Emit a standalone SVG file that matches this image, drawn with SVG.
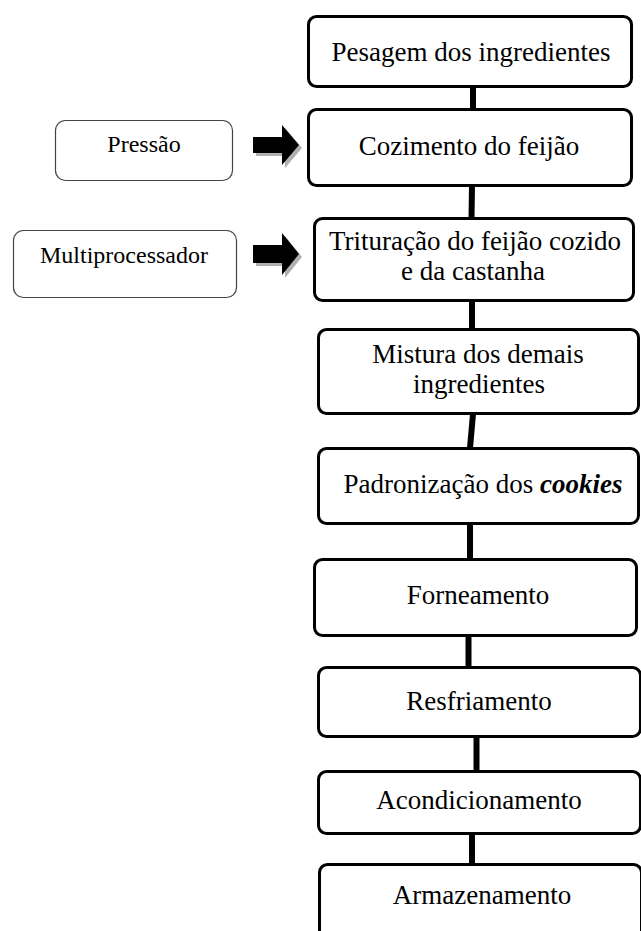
<svg xmlns="http://www.w3.org/2000/svg" width="641" height="931" viewBox="0 0 641 931">
<style>
.main{fill:#fff;stroke:#000;stroke-width:3}
.side{fill:#fff;stroke:#444;stroke-width:1.2}
.t{font-family:'Liberation Serif',Tinos,'DejaVu Serif',serif;font-size:27px;fill:#000;text-anchor:middle}
.s{font-family:'Liberation Serif',Tinos,'DejaVu Serif',serif;font-size:24px;fill:#000;text-anchor:middle}
.c{stroke:#000;stroke-width:6;fill:none}
.sh{fill:#b0b0b0}
.ar{fill:#000}
</style>
<rect width="641" height="931" fill="#fff"/>
<g id="connectors">
<line class="c" x1="473" y1="88" x2="473" y2="109"/>
<line class="c" x1="472" y1="186" x2="471.5" y2="218"/>
<line class="c" x1="472" y1="301" x2="472" y2="329"/>
<line class="c" x1="473" y1="414" x2="470" y2="448"/>
<line class="c" x1="470" y1="524" x2="470" y2="559"/>
<line class="c" x1="468.5" y1="636" x2="468.5" y2="667"/>
<line class="c" x1="476.5" y1="737" x2="476.5" y2="771"/>
<line class="c" x1="472" y1="834" x2="472" y2="864"/>
<polygon class="sh" points="256,140 285,140 285,128 302,148 285,168 285,156 256,156"/>
<polygon class="ar" points="253,137 282,137 282,125 299,145 282,165 282,153 253,153"/>
<polygon class="sh" points="256,248 285,248 285,236 302,257 285,278 285,266 256,266"/>
<polygon class="ar" points="253,245 282,245 282,233 299,254 282,275 282,263 253,263"/>
</g>
<g id="n1"><rect class="main" x="308.5" y="16.5" width="323" height="70" rx="8"/><text class="t" x="471" y="61">Pesagem dos ingredientes</text></g>
<g id="n2"><rect class="main" x="308.5" y="109.5" width="323" height="76" rx="8"/><text class="t" x="469" y="155">Cozimento do feijão</text></g>
<g id="n3"><rect class="main" x="314.5" y="218.5" width="319" height="82" rx="8"/><text class="t" x="475" y="250">Trituração do feijão cozido</text><text class="t" x="473" y="280">e da castanha</text></g>
<g id="n4"><rect class="main" x="318.5" y="329.5" width="320" height="84" rx="8"/><text class="t" x="478" y="363">Mistura dos demais</text><text class="t" x="479" y="393">ingredientes</text></g>
<g id="n5"><rect class="main" x="318.5" y="448.5" width="320" height="75" rx="8"/><text class="t" x="483" y="493">Padronização dos <tspan font-weight="bold" font-style="italic">cookies</tspan></text></g>
<g id="n6"><rect class="main" x="314.5" y="559.5" width="322" height="76" rx="8"/><text class="t" x="478" y="604">Forneamento</text></g>
<g id="n7"><rect class="main" x="318.5" y="667.5" width="322" height="69" rx="8"/><text class="t" x="479" y="710">Resfriamento</text></g>
<g id="n8"><rect class="main" x="318.5" y="771.5" width="322" height="62" rx="8"/><text class="t" x="479" y="809">Acondicionamento</text></g>
<g id="n9"><rect class="main" x="319.5" y="864.5" width="322" height="80" rx="8"/><text class="t" x="482" y="904">Armazenamento</text></g>
<g id="p1"><rect class="side" x="55.5" y="120.5" width="177" height="60" rx="10"/><text class="s" x="144" y="152">Pressão</text></g>
<g id="p2"><rect class="side" x="13.5" y="230.5" width="223" height="67" rx="10"/><text class="s" x="124" y="263">Multiprocessador</text></g>
</svg>
